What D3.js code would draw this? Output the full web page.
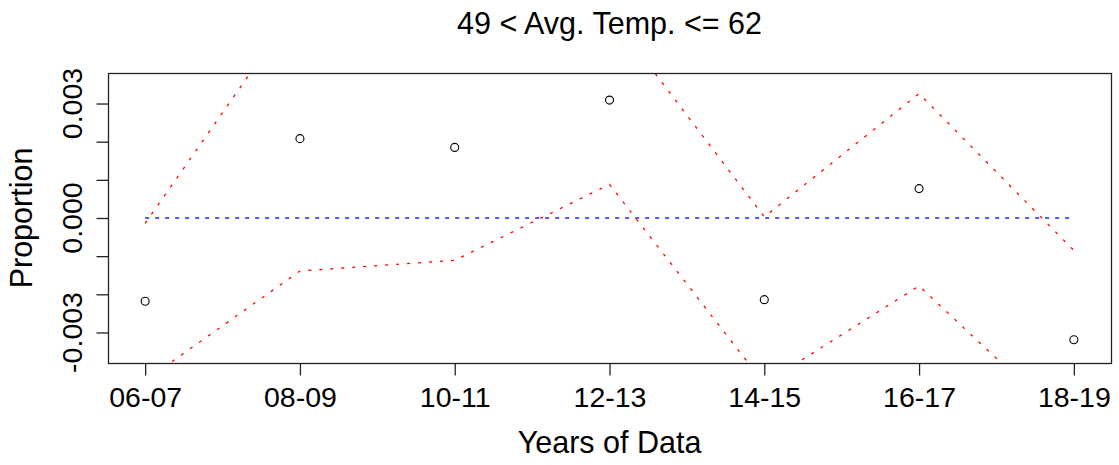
<!DOCTYPE html>
<html>
<head>
<meta charset="utf-8">
<script src="https://cdn.jsdelivr.net/npm/d3@7"></script>
<style>
  body { margin: 0; background: #fff; }
  text { font-family: "Liberation Sans", Arial, sans-serif; fill: #000; }
</style>
</head>
<body>
<div id="chart"></div>
<script>
// values
var years = ["06-07", "08-09", "10-11", "12-13", "14-15", "16-17", "18-19"];
var proportion = [-0.00218, 0.00208, 0.00185, 0.00309, -0.00214, 0.00077, -0.00319];
var upperBand = [-0.00014, 0.00566, 0.00481, 0.00536, 0.00003, 0.00326, -0.00085];
var lowerBand = [-0.00426, -0.00139, -0.00111, 0.00088, -0.00434, -0.00178, -0.00558];
var yTicks = [-0.003, -0.002, -0.001, 0, 0.001, 0.002, 0.003];
var yLabelled = [-0.003, 0, 0.003];

var width = 1119, height = 465;
var box = {left: 108, right: 1111, top: 73, bottom: 363};

var svg = d3.select('#chart')
    .append('svg')
        .attr('width', width)
        .attr('height', height);

var x = d3.scaleLinear()
    .domain([0.76, years.length + 0.24])
    .range([box.left, box.right]);

var y = d3.scaleLinear()
    .domain([-0.0038, 0.0038])
    .range([box.bottom, box.top]);

svg.append('clipPath')
    .attr('id', 'plot-clip')
    .append('rect')
        .attr('x', box.left)
        .attr('y', box.top)
        .attr('width', box.right - box.left)
        .attr('height', box.bottom - box.top);

var plot = svg.append('g').attr('clip-path', 'url(#plot-clip)');

var line = d3.line()
    .x(function(d, i) { return x(i + 1); })
    .y(function(d) { return y(d); });

// reference line at zero
plot.append('path')
    .datum(years.map(function() { return 0; }))
    .attr('d', line)
    .attr('fill', 'none')
    .attr('stroke', '#2020ff')
    .attr('stroke-width', 1.3)
    .attr('stroke-dasharray', '4,6');

// confidence bands
[upperBand, lowerBand].forEach(function(band) {
    plot.append('path')
        .datum(band)
        .attr('d', line)
        .attr('fill', 'none')
        .attr('stroke', '#ff0000')
        .attr('stroke-width', 1.3)
        .attr('stroke-dasharray', '3,8');
});

plot.selectAll('circle.pt')
    .data(proportion)
    .enter().append('circle')
        .attr('class', 'pt')
        .attr('cx', function(d, i) { return x(i + 1); })
        .attr('cy', function(d) { return y(d); })
        .attr('r', 4)
        .attr('fill', 'none')
        .attr('stroke', '#000')
        .attr('stroke-width', 1.1);

// box
svg.append('rect')
    .attr('x', box.left + 0.5)
    .attr('y', box.top + 0.5)
    .attr('width', box.right - box.left)
    .attr('height', box.bottom - box.top)
    .attr('fill', 'none')
    .attr('stroke', '#222')
    .attr('stroke-width', 1.3);

// x axis
var xAxis = d3.axisBottom(x)
    .tickValues(d3.range(1, years.length + 1))
    .tickFormat(function(d) { return years[d - 1]; })
    .tickSizeInner(12)
    .tickSizeOuter(0);

var gx = svg.append('g')
    .attr('transform', 'translate(0,' + (box.bottom + 0.5) + ')')
    .call(xAxis);
gx.select('.domain').remove();
gx.selectAll('line').attr('stroke', '#222').attr('stroke-width', 1.3);
gx.selectAll('text')
    .attr('font-size', '28.5px')
    .attr('font-family', '"Liberation Sans", Arial, sans-serif')
    .attr('dy', null)
    .attr('y', 43);

// y axis
var yAxis = d3.axisLeft(y)
    .tickValues(yTicks)
    .tickFormat('')
    .tickSizeInner(12)
    .tickSizeOuter(0);

var gy = svg.append('g')
    .attr('transform', 'translate(' + (box.left + 0.5) + ',0)')
    .call(yAxis);
gy.select('.domain').remove();
gy.selectAll('line').attr('stroke', '#222').attr('stroke-width', 1.3);

svg.selectAll('text.ylab')
    .data(yLabelled)
    .enter().append('text')
        .attr('class', 'ylab')
        .attr('transform', function(d) { return 'translate(82,' + y(d) + ') rotate(-90)'; })
        .attr('text-anchor', 'middle')
        .attr('font-size', '28.5px')
        .text(function(d) { return d3.format('.3f')(d).replace('−', '-'); });

// titles
svg.append('text')
    .attr('x', (box.left + box.right) / 2)
    .attr('y', 34)
    .attr('text-anchor', 'middle')
    .attr('font-size', '30.5px')
    .text('49 < Avg. Temp. <= 62');

svg.append('text')
    .attr('x', (box.left + box.right) / 2)
    .attr('y', 453)
    .attr('text-anchor', 'middle')
    .attr('font-size', '30.5px')
    .text('Years of Data');

svg.append('text')
    .attr('transform', 'translate(32,' + ((box.top + box.bottom) / 2) + ') rotate(-90)')
    .attr('text-anchor', 'middle')
    .attr('font-size', '30.5px')
    .text('Proportion');
</script>
</body>
</html>
